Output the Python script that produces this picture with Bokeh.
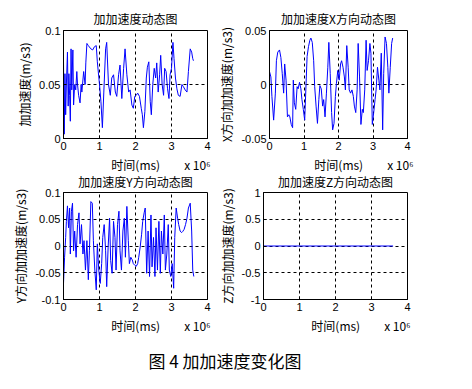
from bokeh.plotting import figure
from bokeh.models import Range1d, FixedTicker, Div
from bokeh.layouts import column, row
from bokeh.embed import file_html
from bokeh.resources import INLINE

# ---- data (time in units of 1e6 ms) ----
t_jerk = [0.00, 0.02, 0.04, 0.06, 0.08, 0.11, 0.13, 0.15, 0.17, 0.19, 0.21, 0.23, 0.26, 0.28,
          0.31, 0.34, 0.37, 0.39, 0.42, 0.46, 0.49, 0.51, 0.56, 0.60, 0.62, 0.65, 0.69, 0.76,
          0.81, 0.86, 0.91, 0.94, 1.00, 1.04, 1.08, 1.12, 1.17, 1.20, 1.25, 1.30, 1.34, 1.39,
          1.44, 1.48, 1.53, 1.57, 1.62, 1.67, 1.71, 1.76, 1.81, 1.85, 1.90, 1.94, 1.98, 2.02,
          2.06, 2.11, 2.16, 2.19, 2.22, 2.26, 2.30, 2.33, 2.37, 2.41, 2.44, 2.48, 2.52, 2.56,
          2.59, 2.63, 2.67, 2.70, 2.74, 2.78, 2.81, 2.85, 2.89, 2.93, 2.96, 3.00, 3.04, 3.07,
          3.11, 3.15, 3.19, 3.24, 3.29, 3.33, 3.38, 3.43, 3.47, 3.52, 3.56, 3.59, 3.61]
jerk = [0.072, 0.004, 0.060, 0.022, 0.050, 0.080, 0.030, 0.060, 0.040, 0.016, 0.083, 0.045, 0.082, 0.031,
        0.050, 0.045, 0.062, 0.050, 0.040, 0.033, 0.050, 0.043, 0.062, 0.050, 0.070, 0.088, 0.086, 0.083,
        0.082, 0.085, 0.086, 0.071, 0.050, 0.034, 0.010, 0.043, 0.083, 0.089, 0.050, 0.040, 0.056, 0.059,
        0.043, 0.039, 0.059, 0.068, 0.037, 0.065, 0.083, 0.059, 0.043, 0.045, 0.031, 0.028, 0.039, 0.040,
        0.042, 0.039, 0.028, 0.022, 0.010, 0.025, 0.056, 0.066, 0.071, 0.034, 0.022, 0.050, 0.065, 0.056,
        0.070, 0.043, 0.059, 0.077, 0.050, 0.040, 0.065, 0.062, 0.046, 0.037, 0.059, 0.065, 0.089, 0.074,
        0.056, 0.046, 0.040, 0.039, 0.050, 0.048, 0.045, 0.043, 0.062, 0.083, 0.080, 0.074, 0.072]

t_x = [0.00, 0.04, 0.07, 0.12, 0.17, 0.20, 0.24, 0.29, 0.33, 0.37, 0.41, 0.44, 0.48, 0.52, 0.56,
       0.59, 0.63, 0.67, 0.69, 0.72, 0.76, 0.80, 0.83, 0.87, 0.91, 0.94, 0.98, 1.02, 1.06, 1.09,
       1.13, 1.17, 1.20, 1.24, 1.28, 1.31, 1.35, 1.39, 1.43, 1.46, 1.50, 1.54, 1.57, 1.61, 1.65,
       1.69, 1.72, 1.76, 1.80, 1.83, 1.87, 1.91, 1.94, 1.98, 2.02, 2.06, 2.09, 2.13, 2.17, 2.20,
       2.24, 2.28, 2.31, 2.35, 2.39, 2.43, 2.46, 2.50, 2.54, 2.57, 2.61, 2.65, 2.69, 2.72, 2.76,
       2.80, 2.83, 2.87, 2.91, 2.94, 2.98, 3.02, 3.06, 3.09, 3.13, 3.17, 3.20, 3.24, 3.28, 3.31,
       3.35, 3.39, 3.43, 3.46, 3.50, 3.54, 3.57]
jerk_x = [0.012, 0.007, -0.011, -0.033, -0.008, 0.022, 0.030, 0.032, 0.025, 0.010, -0.008, 0.019, 0.004, -0.030, -0.028,
          -0.030, -0.037, -0.040, 0.004, -0.017, -0.023, -0.002, -0.004, 0.002, -0.004, -0.014, -0.023, -0.033, 0.001, 0.026,
          0.035, 0.041, 0.043, 0.039, 0.022, -0.002, -0.020, -0.036, -0.014, -0.001, -0.004, -0.020, -0.014, -0.030, -0.008,
          0.016, 0.039, 0.010, -0.026, -0.042, -0.036, -0.011, 0.001, 0.013, 0.004, 0.019, 0.022, 0.016, 0.007, -0.005,
          0.036, 0.016, -0.005, -0.008, -0.005, -0.011, -0.020, -0.026, -0.005, 0.038, 0.007, -0.037, -0.023, -0.026, -0.005,
          0.041, 0.013, 0.022, 0.038, 0.029, -0.037, -0.026, -0.014, -0.005, 0.016, 0.004, -0.005, 0.029, -0.042, 0.010,
          0.044, 0.038, 0.016, -0.008, 0.016, 0.038, 0.043]

t_y = [0.00, 0.03, 0.06, 0.08, 0.11, 0.14, 0.17, 0.19, 0.22, 0.25, 0.28, 0.31, 0.35, 0.39, 0.43,
       0.46, 0.50, 0.54, 0.57, 0.61, 0.65, 0.69, 0.72, 0.76, 0.80, 0.83, 0.87, 0.91, 0.94, 0.98,
       1.02, 1.06, 1.09, 1.13, 1.17, 1.20, 1.24, 1.28, 1.31, 1.35, 1.39, 1.43, 1.46, 1.50, 1.54,
       1.57, 1.61, 1.65, 1.69, 1.72, 1.76, 1.80, 1.83, 1.87, 1.91, 1.94, 1.98, 2.02, 2.06, 2.09,
       2.13, 2.17, 2.20, 2.24, 2.27, 2.31, 2.35, 2.39, 2.43, 2.46, 2.50, 2.54, 2.57, 2.61, 2.65,
       2.69, 2.72, 2.76, 2.80, 2.83, 2.87, 2.91, 2.94, 2.98, 3.02, 3.06, 3.09, 3.13, 3.17, 3.20,
       3.24, 3.28, 3.31, 3.35, 3.39, 3.43, 3.47, 3.52, 3.56, 3.59, 3.62]
jerk_y = [-0.070, -0.021, 0.016, 0.046, 0.075, 0.034, 0.071, -0.015, 0.065, 0.080, -0.009, 0.028, -0.021, 0.040, 0.062,
          0.004, 0.040, -0.015, 0.010, -0.045, 0.010, -0.063, -0.009, 0.083, 0.080, 0.010, -0.045, -0.082, 0.004, -0.045,
          -0.070, -0.033, 0.016, 0.040, -0.009, -0.076, -0.002, 0.052, -0.027, -0.051, 0.046, 0.016, -0.045, 0.040, 0.065,
          -0.009, -0.045, 0.028, 0.052, -0.021, 0.074, 0.010, -0.033, -0.021, -0.026, -0.033, -0.036, -0.038, -0.033, -0.021,
          -0.002, 0.022, 0.046, 0.062, 0.071, -0.051, 0.028, -0.057, 0.058, -0.039, 0.016, -0.057, 0.034, -0.045, 0.046,
          -0.051, 0.028, -0.015, 0.058, -0.045, -0.015, 0.040, -0.045, -0.057, -0.033, -0.079, 0.016, 0.071, 0.052, 0.040,
          0.028, 0.025, 0.027, 0.031, 0.040, 0.052, 0.071, 0.080, 0.028, -0.045, -0.057]

t_z = [0.0, 3.6]
jerk_z = [0.0, 0.0]

x_ticks = [0, 1, 2, 3, 4]
titles = ["加加速度动态图", "加加速度X方向动态图", "加加速度Y方向动态图", "加加速度Z方向动态图"]
ylabels = ["加加速度(m/s3)", "X方向加加速度(m/s3)", "Y方向加加速度(m/s3)", "Z方向加加速度(m/s3)"]
xlabel = "时间(ms)"
x_exponent = "x 10⁶"
caption = "图 4 加加速度变化图"

y_ranges = [(0, 0.1), (-0.05, 0.05), (-0.1, 0.1), (-1, 1)]
y_ticks = [[0, 0.05, 0.1], [-0.05, 0, 0.05], [-0.1, -0.05, 0, 0.05, 0.1], [-1, -0.5, 0, 0.5, 1]]
y_tick_labels = [["0", "0.05", "0.1"], ["-0.05", "0", "0.05"],
                 ["-0.1", "-0.05", "0", "0.05", "0.1"], ["-1", "-0.5", "0", "0.5", "1"]]

CJK = "Noto Sans CJK SC"
LAT = "Liberation Sans"
EM = "\u2003"
# centred x label "时间(ms)" with the exponent note at its right; left padding keeps the label centred
x_axis_text = EM * 4 + "\u00a0" + xlabel + EM * 2 + x_exponent


def panel(i, t, v, width, height, bl, br, bt, bb, title_standoff, xlab_standoff):
    y0, y1 = y_ranges[i]
    p = figure(width=width, height=height, x_range=Range1d(0, 4), y_range=Range1d(y0, y1),
               output_backend="svg", toolbar_location=None, title=titles[i],
               min_border_left=bl, min_border_right=br, min_border_top=bt, min_border_bottom=bb)
    p.title.text_font = CJK
    p.title.text_font_size = "12px"
    p.title.text_font_style = "normal"
    p.title.align = "center"
    p.title.standoff = title_standoff
    p.title.text_color = "black"
    p.background_fill_color = "white"
    p.border_fill_color = None
    p.outline_line_color = "black"
    p.outline_line_alpha = 1.0
    p.outline_line_width = 1

    p.xaxis.ticker = FixedTicker(ticks=x_ticks)
    p.yaxis.ticker = FixedTicker(ticks=y_ticks[i])
    p.yaxis.major_label_overrides = {float(k): s for k, s in zip(y_ticks[i], y_tick_labels[i])}
    for ax in (p.xaxis[0], p.yaxis[0]):
        ax.axis_line_color = "black"
        ax.major_tick_line_color = "black"
        ax.major_tick_in = 3
        ax.major_tick_out = 0
        ax.minor_tick_line_color = None
        ax.major_label_text_font = LAT
        ax.major_label_text_font_size = "11px"
        ax.major_label_text_color = "black"
        ax.major_label_standoff = 3
        ax.axis_label_text_font = CJK
        ax.axis_label_text_font_size = "12px"
        ax.axis_label_text_font_style = "normal"
        ax.axis_label_text_color = "black"
    p.xaxis.axis_label = x_axis_text
    p.xaxis.axis_label_standoff = xlab_standoff
    p.yaxis.axis_label = ylabels[i]
    p.yaxis.axis_label_standoff = 3
    for g in (p.xgrid[0], p.ygrid[0]):
        g.grid_line_color = "black"
        g.grid_line_dash = "3 3"
        g.grid_line_alpha = 1.0
        g.grid_line_width = 1

    p.line(t, v, line_color="#0000ff", line_width=1)
    return p


# row 1: frame y 30..139 ; row 2: frame y 191..300 (row 2 overlaps row 1's empty strip)
f1 = panel(0, t_jerk, jerk, 215, 175, 63, 8, 30, 36, 7, 3)
f2 = panel(1, t_x, jerk_x, 212, 175, 48, 20, 30, 36, 7, 3)
f3 = panel(2, t_y, jerk_y, 215, 169, 63, 8, 24, 36, 6, 3)
f4 = panel(3, t_z, jerk_z, 212, 169, 48, 20, 24, 36, 6, 3)

row1 = row(f1, f2)
row2 = row(f3, f4)
row2.margin = (-8, 0, 0, 0)

cap = Div(text='<div style="width:450px;display:block;text-align:center;font-family:\'Noto Sans CJK SC\';'
               'font-size:17px;line-height:20px;padding-top:15px;color:black;">' + caption + '</div>',
          width=450, height=45, margin=0)

layout = column(row1, row2, cap)

open("out.html", "w").write(file_html(layout, INLINE))
